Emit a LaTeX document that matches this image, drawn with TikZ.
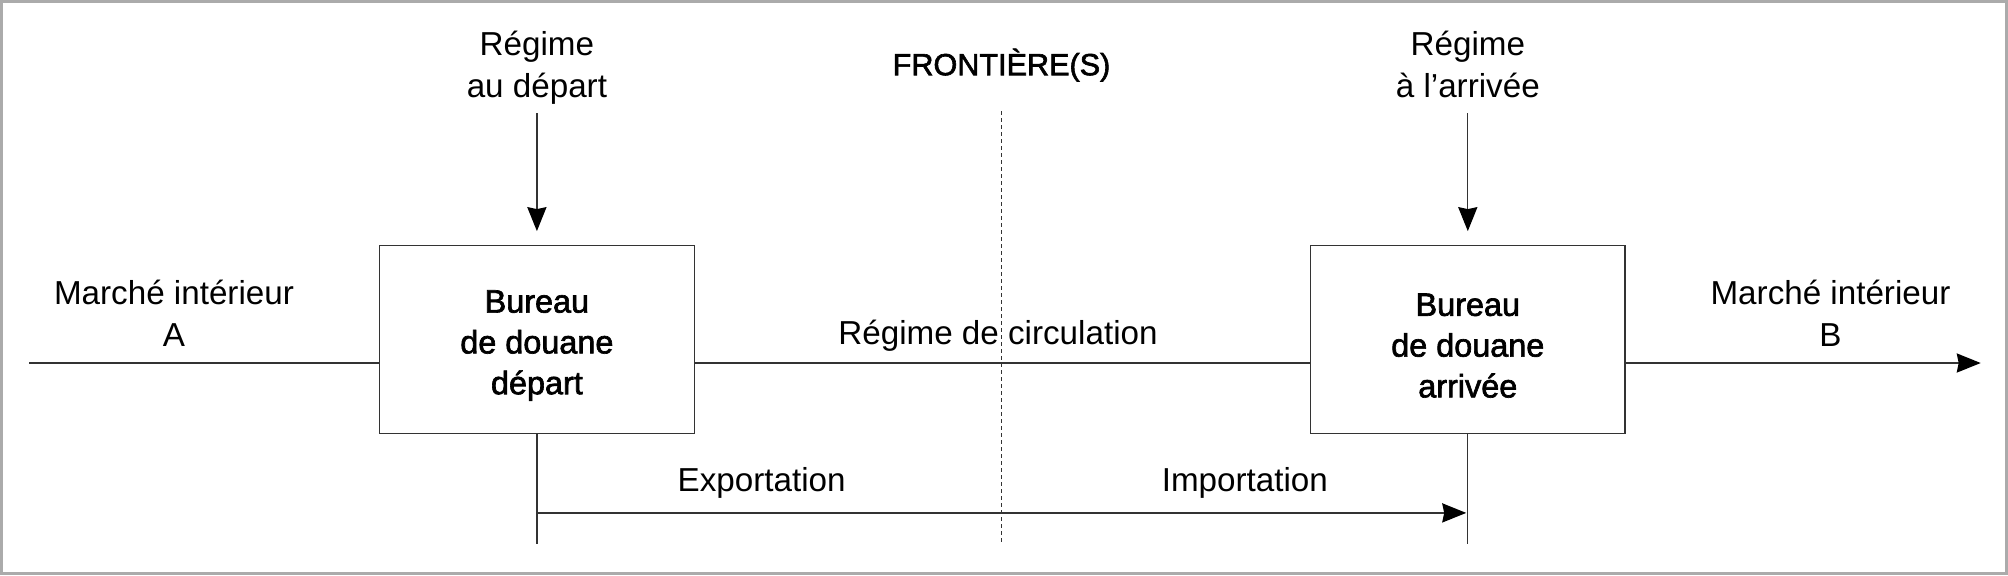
\documentclass[tikz,border=0pt]{standalone}
\usepackage{fontspec}
\setmainfont{Liberation Sans}
\newfontfamily\medfont{Liberation Sans}[FakeBold=2]
\usetikzlibrary{arrows.meta}
\definecolor{linec}{HTML}{333333}
\definecolor{framec}{HTML}{ABABAB}
\begin{document}
\begin{tikzpicture}[x=0.5pt,y=-0.5pt,
  lbl/.style={anchor=base, inner sep=0pt, font=\fontsize{16.6pt}{20pt}\selectfont},
  ttl/.style={anchor=base, inner sep=0pt, font=\medfont\fontsize{15.3pt}{20pt}\selectfont},
  office/.style={draw=linec, line width=0.65pt, minimum width=157.3pt, minimum height=94pt,
    align=center, inner sep=0pt, font=\medfont\fontsize{16.2pt}{20.4pt}\selectfont},
  conn/.style={draw=linec, line width=0.65pt},
  arr/.style={conn, -{Stealth[length=12pt,width=9.6pt,inset=1pt,color=black,fill=black]}},
  border/.style={draw=framec, line width=1.5pt},
  frontier/.style={draw=linec, line width=0.5pt, dash pattern=on 2pt off 1.5pt}]
\useasboundingbox (0,0) rectangle (2008,575);
\draw[border] (1.5,1.5) rectangle (2006.5,573.5);

% offices
\node[office] (bd) at (536.9,339.75) {\rule{0pt}{17pt}Bureau\\de douane\\départ};
\node[office] (ba) at (1467.8,339.75) {\rule{0pt}{17pt}Bureau\\de douane\\arrivée};

% top labels
\node[lbl] (rd1) at (536.9,55.7) {Régime};
\node[lbl] (rd2) at (536.9,97) {au départ};
\node[lbl] (ra1) at (1467.8,55.7) {Régime};
\node[lbl] (ra2) at (1467.8,97) {à l’arrivée};
\node[ttl] (fr) at (1001.5,75.2) {FRONTIÈRE(S)};

% side labels
\node[lbl] (ma1) at (174,304.4) {Marché intérieur};
\node[lbl] (ma2) at (174,346.5) {A};
\node[lbl] (mb1) at (1830.5,304.4) {Marché intérieur};
\node[lbl] (mb2) at (1830.5,346.5) {B};
\node[lbl] (rc) at (998,344.7) {Régime de circulation};
\node[lbl] (exp) at (761.6,491.4) {Exportation};
\node[lbl] (imp) at (1244.8,491.4) {Importation};

% coordinates
\coordinate (la) at (29,363);
\coordinate (rb) at (1980.7,363);
\coordinate (td) at (536.9,113);
\coordinate (ta) at (1467.8,113);
\coordinate (f1) at (1001.3,111);
\coordinate (f2) at (1001.3,544);
\path (bd.south) ++(0,109.5) coordinate (bdb);
\path (ba.south) ++(0,109.5) coordinate (bab);
\path (bd.south) ++(0,78.5) coordinate (ex);

% frontier
\draw[frontier] (f1) -- (f2);

% connectors
\draw[arr, shorten >=7pt] (td) -- (bd.north);
\draw[arr, shorten >=7pt] (ta) -- (ba.north);
\draw[conn] (la) -- (la -| bd.west);
\draw[conn] (la -| bd.east) -- (la -| ba.west);
\draw[arr] (la -| ba.east) -- (rb);
\draw[conn] (bd.south) -- (bdb);
\draw[conn] (ba.south) -- (bab);
\draw[arr] (ex) -- ([xshift=-0.8pt]ex -| ba.south);
\end{tikzpicture}
\end{document}
